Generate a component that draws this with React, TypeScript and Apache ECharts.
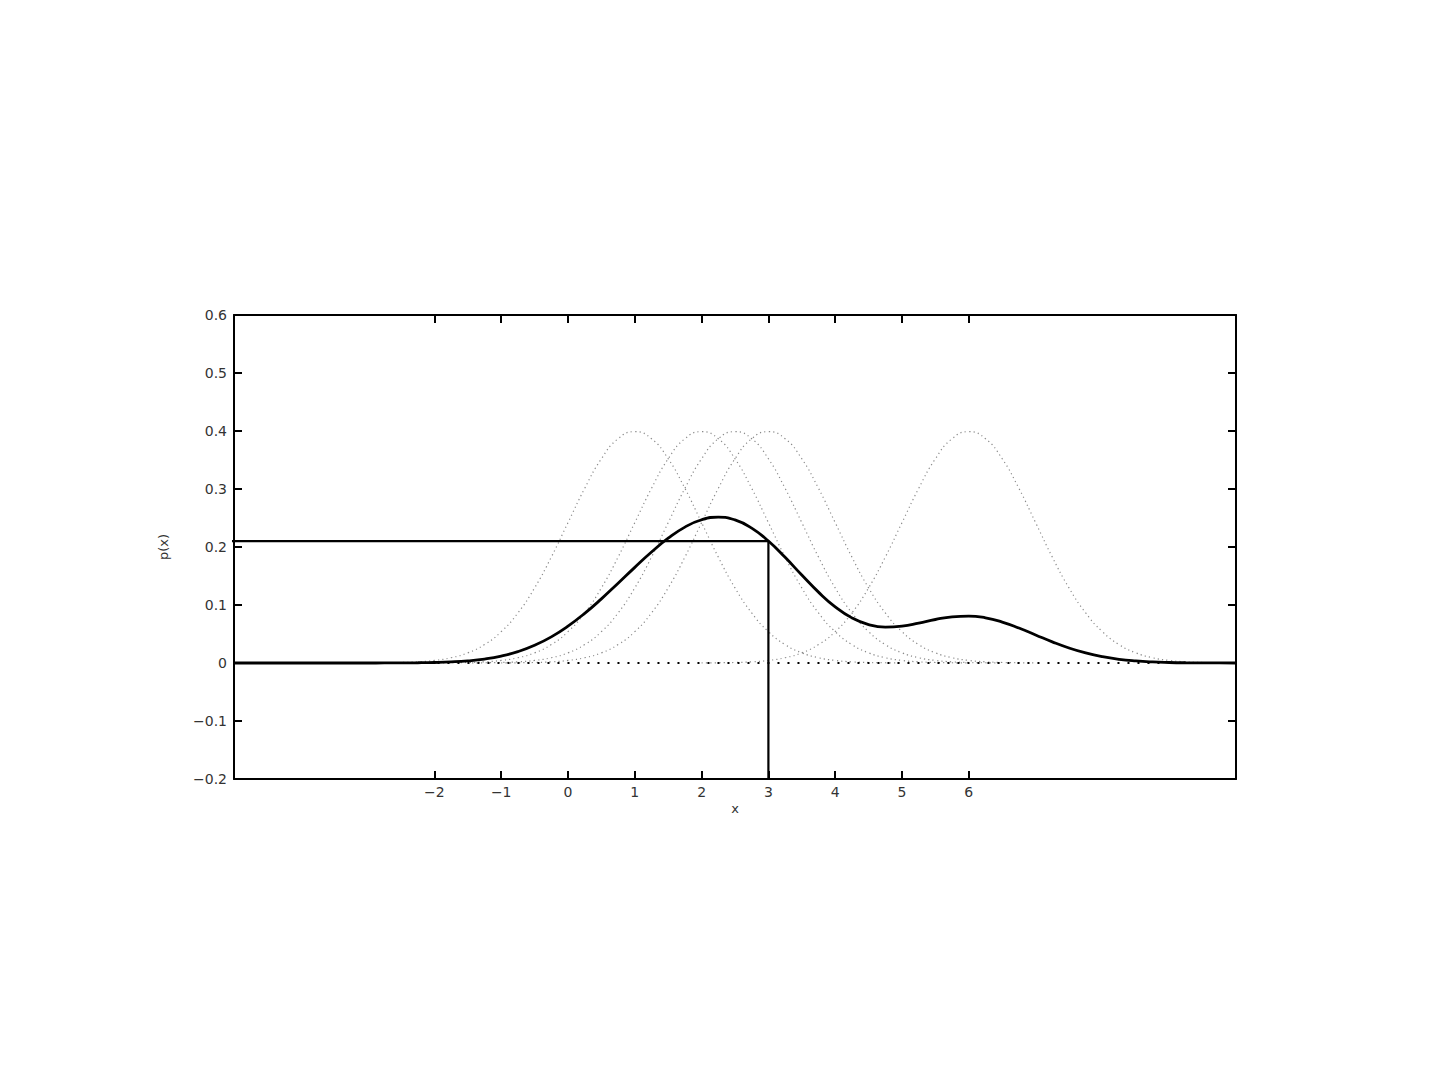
import React, { useEffect, useRef } from "react";
import * as echarts from "echarts";

// Sample grid for the mixture density p(x)
const mixtureX = [
  -5, -4.75, -4.5, -4.25, -4, -3.75, -3.5, -3.25, -3, -2.75, -2.5, -2.25, -2, -1.75, -1.5, -1.25,
  -1, -0.75, -0.5, -0.25, 0, 0.25, 0.5, 0.75, 1, 1.25, 1.5, 1.75, 2, 2.25, 2.5, 2.75,
  3, 3.25, 3.5, 3.75, 4, 4.25, 4.5, 4.75, 5, 5.25, 5.5, 5.75, 6, 6.25, 6.5, 6.75,
  7, 7.25, 7.5, 7.75, 8, 8.25, 8.5, 8.75, 9, 9.25, 9.5, 9.75, 10,
];
const mixtureY = [
  0, 0, 0, 0, 0, 0, 0, 0, 0, 0.0001, 0.0002, 0.0004, 0.0009, 0.0019, 0.0037, 0.0068,
  0.0119, 0.0196, 0.0305, 0.0451, 0.0636, 0.0856, 0.1106, 0.1375, 0.1649, 0.1913, 0.2151, 0.2343, 0.247, 0.2515, 0.2467, 0.2326,
  0.2103, 0.1822, 0.1517, 0.1222, 0.0968, 0.0778, 0.0663, 0.062, 0.0636, 0.0688, 0.075, 0.0796, 0.0809, 0.0778, 0.0706, 0.0603,
  0.0484, 0.0365, 0.0259, 0.0173, 0.0108, 0.0063, 0.0035, 0.0018, 0.0009, 0.0004, 0.0002, 0.0001, 0,
];

// Kernel centres and each kernel's samples (offsets from its centre)
const kernelCenters = [1, 2, 2.5, 3, 6];
const kernelOffsets = [
  -4, -3.75, -3.5, -3.25, -3, -2.75, -2.5, -2.25, -2, -1.75, -1.5, -1.25, -1, -0.75, -0.5, -0.25,
  0, 0.25, 0.5, 0.75, 1, 1.25, 1.5, 1.75, 2, 2.25, 2.5, 2.75, 3, 3.25, 3.5, 3.75, 4,
];
const kernel1 = [0.0001, 0.0004, 0.0009, 0.002, 0.0044, 0.0091, 0.0175, 0.0317, 0.054, 0.0863, 0.1295, 0.1826, 0.242, 0.3011, 0.3521, 0.3867, 0.3989, 0.3867, 0.3521, 0.3011, 0.242, 0.1826, 0.1295, 0.0863, 0.054, 0.0317, 0.0175, 0.0091, 0.0044, 0.002, 0.0009, 0.0004, 0.0001];
const kernel2 = [0.0001, 0.0004, 0.0009, 0.002, 0.0044, 0.0091, 0.0175, 0.0317, 0.054, 0.0863, 0.1295, 0.1826, 0.242, 0.3011, 0.3521, 0.3867, 0.3989, 0.3867, 0.3521, 0.3011, 0.242, 0.1826, 0.1295, 0.0863, 0.054, 0.0317, 0.0175, 0.0091, 0.0044, 0.002, 0.0009, 0.0004, 0.0001];
const kernel3 = [0.0001, 0.0004, 0.0009, 0.002, 0.0044, 0.0091, 0.0175, 0.0317, 0.054, 0.0863, 0.1295, 0.1826, 0.242, 0.3011, 0.3521, 0.3867, 0.3989, 0.3867, 0.3521, 0.3011, 0.242, 0.1826, 0.1295, 0.0863, 0.054, 0.0317, 0.0175, 0.0091, 0.0044, 0.002, 0.0009, 0.0004, 0.0001];
const kernel4 = [0.0001, 0.0004, 0.0009, 0.002, 0.0044, 0.0091, 0.0175, 0.0317, 0.054, 0.0863, 0.1295, 0.1826, 0.242, 0.3011, 0.3521, 0.3867, 0.3989, 0.3867, 0.3521, 0.3011, 0.242, 0.1826, 0.1295, 0.0863, 0.054, 0.0317, 0.0175, 0.0091, 0.0044, 0.002, 0.0009, 0.0004, 0.0001];
const kernel5 = [0.0001, 0.0004, 0.0009, 0.002, 0.0044, 0.0091, 0.0175, 0.0317, 0.054, 0.0863, 0.1295, 0.1826, 0.242, 0.3011, 0.3521, 0.3867, 0.3989, 0.3867, 0.3521, 0.3011, 0.242, 0.1826, 0.1295, 0.0863, 0.054, 0.0317, 0.0175, 0.0091, 0.0044, 0.002, 0.0009, 0.0004, 0.0001];
const kernels = [kernel1, kernel2, kernel3, kernel4, kernel5];

// Query point x = 3 and its density
const queryX = 3;
const queryY = 0.2103;
const guideStartX = -5.16;

// Zero baseline of the kernel tails
const baselineX = [-3.9, 8.9];

// Axis ticks
const xTicks = [-2, -1, 0, 1, 2, 3, 4, 5, 6];
const xMin = -5;
const xMax = 10;
const yMin = -0.2;
const yMax = 0.6;
const yStep = 0.1;

const FONT = "DejaVu Sans";

export default function App() {
  const ref = useRef<HTMLDivElement>(null);
  useEffect(() => {
    if (!ref.current) return;
    const chart = echarts.init(ref.current, null, { renderer: "svg" });

    const kernelSeries = kernels.map((ys, k) => ({
      type: "line",
      name: "kernel " + (k + 1),
      data: kernelOffsets.map((o, i) => [kernelCenters[k] + o, ys[i]]),
      smooth: true,
      showSymbol: false,
      lineStyle: { color: "#8a8a8a", width: 1.2, type: [1.2, 3.2] },
      z: 2,
    }));

    const axisLine = { show: true, onZero: false, lineStyle: { color: "#000", width: 2 } };
    const tickStyle = { show: true, inside: true, length: 8, lineStyle: { color: "#000", width: 2 } };

    chart.setOption({
      animation: false,
      backgroundColor: "#fff",
      grid: { left: 234, top: 315, right: 204, bottom: 301, containLabel: false },
      xAxis: [
        {
          type: "value",
          min: xMin,
          max: xMax,
          interval: 1,
          position: "bottom",
          axisLine,
          axisTick: { ...tickStyle, customValues: xTicks },
          axisLabel: {
            customValues: xTicks,
            color: "#333",
            fontFamily: FONT,
            fontSize: 14,
            margin: 6,
            formatter: (v: number) => (v < 0 ? "\u2212" + Math.abs(v) : String(v)),
          },
          splitLine: { show: false },
          name: "x",
          nameLocation: "middle",
          nameGap: 23,
          nameTextStyle: { color: "#333", fontFamily: FONT, fontSize: 13 },
        },
        {
          type: "value",
          min: xMin,
          max: xMax,
          interval: 1,
          position: "top",
          axisLine,
          axisTick: { ...tickStyle, customValues: xTicks },
          axisLabel: { show: false },
          splitLine: { show: false },
        },
      ],
      yAxis: [
        {
          type: "value",
          min: yMin,
          max: yMax,
          interval: yStep,
          position: "left",
          axisLine,
          axisTick: tickStyle,
          axisLabel: {
            color: "#333",
            fontFamily: FONT,
            fontSize: 14,
            margin: 7,
            formatter: (v: number) => {
              const r = Math.round(v * 10) / 10;
              if (r === 0) return "0";
              return (r < 0 ? "\u2212" : "") + Math.abs(r).toFixed(1);
            },
          },
          splitLine: { show: false },
          name: "p(x)",
          nameLocation: "middle",
          nameGap: 64,
          nameTextStyle: { color: "#333", fontFamily: FONT, fontSize: 13 },
        },
        {
          type: "value",
          min: yMin,
          max: yMax,
          interval: yStep,
          position: "right",
          axisLine,
          axisTick: tickStyle,
          axisLabel: { show: false },
          splitLine: { show: false },
        },
      ],
      series: [
        ...kernelSeries,
        {
          type: "line",
          name: "baseline",
          data: baselineX.map((x) => [x, 0]),
          showSymbol: false,
          lineStyle: { color: "#000", width: 2, type: [2, 8] },
          z: 3,
        },
        {
          type: "line",
          name: "p(x)",
          data: mixtureX.map((x, i) => [x, mixtureY[i]]),
          smooth: true,
          showSymbol: false,
          lineStyle: { color: "#000", width: 2.8 },
          z: 5,
        },
        {
          type: "line",
          name: "query",
          data: [
            [guideStartX, queryY],
            [queryX, queryY],
            [queryX, yMin],
          ],
          showSymbol: false,
          clip: false,
          lineStyle: { color: "#000", width: 2.2 },
          z: 6,
        },
      ],
    });
    return () => chart.dispose();
  }, []);

  return (
    <div
      ref={ref}
      style={{ position: "fixed", left: 0, top: 0, width: 1440, height: 1080, background: "#fff" }}
    />
  );
}
